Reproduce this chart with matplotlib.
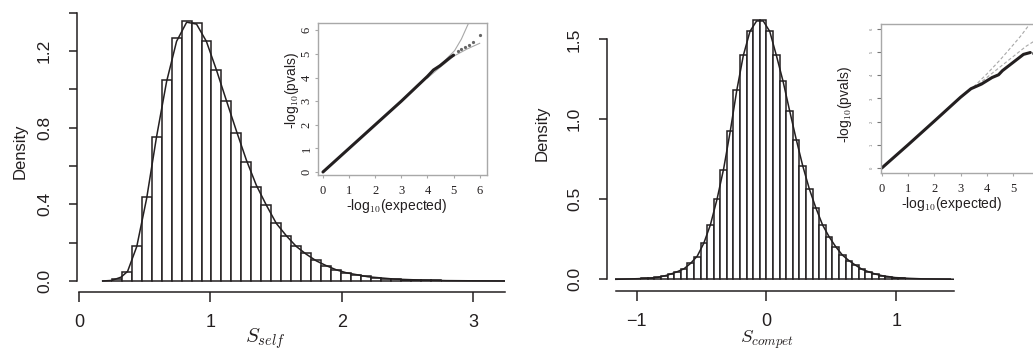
import numpy as np
import matplotlib
matplotlib.use('Agg')
from matplotlib.pyplot import figure

W, H = 1033, 351
INK = '#231f20'
GRAY = '#a8a8a8'

matplotlib.rcParams['font.family'] = ['Liberation Sans', 'DejaVu Sans']
matplotlib.rcParams['mathtext.fontset'] = 'cm'

# %% histogram of S_self (bin start, bin width, densities)
self_start = 0.173
self_width = 0.076
self_heights = [0.001, 0.009, 0.048, 0.18, 0.44, 0.75, 1.05, 1.266, 1.358, 1.344,
                1.25, 1.10, 0.94, 0.77, 0.62, 0.49, 0.395, 0.30, 0.235, 0.18,
                0.144, 0.11, 0.08, 0.057, 0.043, 0.033, 0.025, 0.018, 0.013, 0.009,
                0.007, 0.005, 0.004, 0.003, 0.002, 0.0015, 0.001, 0.001, 0.0007, 0.0005,
                0.0003]
self_curve_x = [0.18, 0.25, 0.32, 0.37, 0.44, 0.515, 0.59, 0.667, 0.743, 0.82,
                0.895, 0.97, 1.047, 1.123, 1.2, 1.275, 1.35, 1.427, 1.503, 1.58,
                1.655, 1.73, 1.807, 1.883, 1.96, 2.035, 2.2, 2.4, 2.6, 2.8,
                3.0, 3.245]
self_curve_y = [0.0, 0.003, 0.02, 0.05, 0.18, 0.43, 0.75, 1.04, 1.25, 1.35,
                1.34, 1.25, 1.10, 0.94, 0.78, 0.63, 0.50, 0.395, 0.30, 0.235,
                0.18, 0.14, 0.105, 0.08, 0.058, 0.043, 0.022, 0.01, 0.005, 0.002,
                0.001, 0.0]

# %% histogram of S_compet
compet_start = -1.1684
compet_width = 0.0508
compet_heights = [0.001, 0.002, 0.003, 0.004, 0.006, 0.008, 0.012, 0.021, 0.033, 0.048,
                  0.064, 0.10, 0.14, 0.225, 0.34, 0.50, 0.685, 0.925, 1.185, 1.405,
                  1.55, 1.62, 1.62, 1.55, 1.405, 1.24, 1.055, 0.873, 0.71, 0.565,
                  0.445, 0.34, 0.265, 0.204, 0.152, 0.117, 0.088, 0.062, 0.047, 0.033,
                  0.023, 0.017, 0.011, 0.007, 0.005, 0.003, 0.002, 0.0015, 0.001, 0.0005,
                  0.0003]
compet_curve_x = [-1.16, -0.99, -0.94, -0.889, -0.838, -0.787, -0.737, -0.686, -0.635, -0.584,
                  -0.533, -0.483, -0.432, -0.381, -0.33, -0.279, -0.229, -0.178, -0.127, -0.076,
                  -0.025, 0.025, 0.076, 0.127, 0.178, 0.229, 0.279, 0.33, 0.381, 0.432,
                  0.483, 0.533, 0.584, 0.635, 0.686, 0.737, 0.787, 0.838, 0.889, 0.94,
                  0.99, 1.1, 1.2, 1.444]
compet_curve_y = [0.0, 0.004, 0.006, 0.008, 0.012, 0.021, 0.033, 0.048, 0.066, 0.10,
                  0.145, 0.225, 0.34, 0.50, 0.69, 0.925, 1.18, 1.40, 1.55, 1.615,
                  1.615, 1.55, 1.40, 1.24, 1.055, 0.875, 0.71, 0.565, 0.445, 0.34,
                  0.265, 0.204, 0.152, 0.117, 0.088, 0.062, 0.047, 0.033, 0.023, 0.017,
                  0.011, 0.006, 0.003, 0.0005]

# %% QQ insets (-log10 expected vs -log10 pvals)
qq1_x = [0, 1, 2, 3, 4, 4.23, 4.48, 4.87, 5.0]
qq1_y = [0, 1, 2, 3, 4.05, 4.32, 4.5, 4.85, 4.95]
qq1_dots_x = [5.18, 5.3, 5.44, 5.6, 5.76, 6.01]
qq1_dots_y = [5.12, 5.2, 5.3, 5.38, 5.52, 5.8]
qq1_upper_x = [4.0, 4.6, 5.04, 5.3, 5.56]
qq1_upper_y = [4.02, 4.65, 5.14, 5.63, 6.27]
qq1_lower_x = [4.0, 4.5, 5.0, 5.5, 6.0]
qq1_lower_y = [3.98, 4.45, 4.9, 5.2, 5.45]

qq2_x = [0, 1, 2, 3, 3.4, 3.8, 4.2, 4.45, 4.6, 5.0, 5.4, 5.66]
qq2_y = [0, 1, 2.02, 3.05, 3.42, 3.62, 3.9, 4.02, 4.2, 4.55, 4.9, 4.98]
qq2_dots_x = [5.75, 5.85]
qq2_dots_y = [4.97, 4.95]
qq2_upper_x = [3.5, 4.0, 4.5, 5.0, 5.3, 5.6, 5.9]
qq2_upper_y = [3.5, 4.05, 4.65, 5.3, 5.7, 6.15, 6.6]
qq2_lower_x = [3.5, 4.0, 4.5, 5.0, 5.5, 5.85]
qq2_lower_y = [3.45, 3.9, 4.35, 4.8, 5.25, 5.5]


def addaxes(fg, x0, y0, x1, y1):
    """axes from a pixel box (left, top, right, bottom)"""
    return fg.add_axes([x0 / W, 1 - y1 / H, (x1 - x0) / W, (y1 - y0) / H])


def ftext(fg, x, y, s, **kw):
    fg.text(x / W, 1 - y / H, s, ha='center', va='center', color=INK, **kw)


def plothist(ax, start, width, heights, cx, cy, xlim, ylim, yticks, ylabs, xticks, xbound):
    edges = start + width * np.arange(len(heights))
    ax.bar(edges, heights, width=width, align='edge', facecolor='white',
           edgecolor=INK, linewidth=1.1)
    ax.plot(cx, cy, color=INK, lw=1.1)
    ax.set_xlim(xlim)
    ax.set_ylim(ylim)

    for s in ('top', 'right'):
        ax.spines[s].set_visible(False)
    ax.spines['left'].set_bounds(yticks[0], yticks[-1])
    ax.spines['bottom'].set_bounds(*xbound)
    for s in ('left', 'bottom'):
        ax.spines[s].set_color(INK)
        ax.spines[s].set_linewidth(1.1)

    ax.set_yticks(yticks, ylabs)
    ax.set_xticks(xticks, [str(t).replace('-', '\u2212') for t in xticks])
    ax.tick_params(axis='y', length=6, width=1.1, color=INK, pad=12,
                   labelrotation=90, labelsize=12.5, labelcolor=INK)
    ax.tick_params(axis='x', length=7, width=1.1, color=INK, pad=9,
                   labelsize=13, labelcolor=INK)
    for lab in ax.get_yticklabels():
        lab.set_va('center')
    ax.patch.set_alpha(0)


def plotqq(ax, x, y, dx, dy, bands, dashed, xlim, ylim, xpad, tiny=False):
    for bx, by in bands:
        ax.plot(bx, by, color=GRAY, lw=0.8, ls=(0, (3, 2)) if dashed else '-')
    ax.plot(x, y, color=INK, lw=2.2, solid_capstyle='round')
    ax.plot(dx, dy, ls='none', marker='o', ms=1.3, color='#666666')
    ax.set_xlim(xlim)
    ax.set_ylim(ylim)
    for s in ax.spines.values():
        s.set_color(GRAY)
        s.set_linewidth(1.0)
    ax.set_xticks(range(7))
    ax.set_yticks(range(7))
    ax.tick_params(axis='x', length=2, color=GRAY, pad=xpad, labelsize=9,
                   labelcolor=INK, labelfontfamily='Liberation Serif')
    if tiny:
        ax.tick_params(axis='y', length=3, color='#777777', pad=2, labelsize=3,
                       labelcolor='#777777', labelrotation=90)
    else:
        ax.tick_params(axis='y', length=2, color=GRAY, pad=2, labelsize=9,
                       labelcolor=INK, labelrotation=90,
                       labelfontfamily='Liberation Serif')
    for lab in ax.get_yticklabels():
        lab.set_va('center')


fg = figure(figsize=(W / 100, H / 100), dpi=100)
fg.patch.set_facecolor('white')

# %% left panel
ax1 = addaxes(fg, 77, 8, 505, 292)
plothist(ax1, self_start, self_width, self_heights, self_curve_x, self_curve_y,
         (-0.0152, 3.244), (-0.0574, 1.424),
         [0, 0.2, 0.4, 0.6, 0.8, 1.0, 1.2, 1.4],
         ['0.0', '', '0.4', '', '0.8', '', '1.2', ''],
         [0, 1, 2, 3], (0, 3.244))
ftext(fg, 20, 151, 'Density', rotation=90, fontsize=12)
ftext(fg, 265, 339, r'$S_{self}$', fontsize=15)

# %% right panel
ax2 = addaxes(fg, 607, 8, 954, 291)
plothist(ax2, compet_start, compet_width, compet_heights, compet_curve_x, compet_curve_y,
         (-1.228, 1.444), (-0.073, 1.696),
         [0, 0.5, 1.0, 1.5], ['0.0', '0.5', '1.0', '1.5'],
         [-1, 0, 1], (-1.16, 1.444))
ftext(fg, 542, 133, 'Density', rotation=90, fontsize=12)
ftext(fg, 767, 340, r'$S_{compet}$', fontsize=13.5)

# %% insets
ia1 = addaxes(fg, 318, 23, 487, 175)
plotqq(ia1, qq1_x, qq1_y, qq1_dots_x, qq1_dots_y,
       [(qq1_upper_x, qq1_upper_y), (qq1_lower_x, qq1_lower_y)], False,
       (-0.19, 6.28), (-0.127, 6.31), 5.5)
ftext(fg, 397, 206, r'-log$_{10}$(expected)', fontsize=10)
ftext(fg, 292, 90, r'-log$_{10}$(pvals)', rotation=90, fontsize=10)

ia2 = addaxes(fg, 881, 24, 1045, 173)
plotqq(ia2, qq2_x, qq2_y, qq2_dots_x, qq2_dots_y,
       [(qq2_upper_x, qq2_upper_y), (qq2_lower_x, qq2_lower_y)], True,
       (-0.03, 6.22), (-0.215, 6.21), 5, tiny=True)
ftext(fg, 952, 204, r'-log$_{10}$(expected)', fontsize=10)
ftext(fg, 845, 104, r'-log$_{10}$(pvals)', rotation=90, fontsize=10)

fg.savefig('out.png', dpi=100, facecolor='white')
